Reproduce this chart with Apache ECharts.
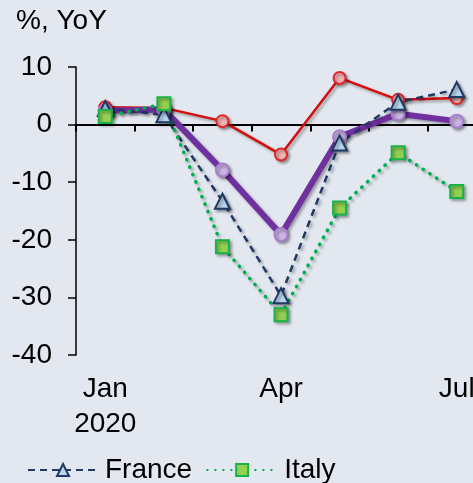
<!DOCTYPE html>
<html>
<head>
<meta charset="utf-8">
<script src="https://cdn.jsdelivr.net/npm/echarts@6/dist/echarts.min.js"></script>
<style>
    html, body {margin: 0; padding: 0; background: #e3e8f0; overflow: hidden;}
    /* plot runs past the right edge, as in the source picture */
    #chart {width: 486px; height: 483px;}
</style>
</head>
<body>
<div id="chart"></div>
<script>
// months of 2020, label shown every third
const months = ['Jan\n2020', 'Feb', 'Mar', 'Apr', 'May', 'Jun', 'Jul'];
const germany = [3.0, 2.9, 0.6, -5.2, 8.1, 4.3, 4.6];
const euroArea = [2.4, 2.6, -7.9, -19.1, -2.1, 1.9, 0.6];
const france = [2.8, 1.7, -13.3, -29.7, -3.2, 3.9, 6.1];
const italy = [1.4, 3.6, -21.2, -33.0, -14.5, -4.9, -11.6];
const yTicks = {min: -40, max: 10, step: 10};

const font = 'Liberation Sans, Arial, sans-serif';
const shadow = {shadowColor: 'rgba(0,0,0,0.35)', shadowBlur: 3, shadowOffsetX: 2, shadowOffsetY: 2};

let myChart = echarts.init(document.getElementById('chart'));
let option = {
    backgroundColor: '#e3e8f0',
    animation: false,
    textStyle: {fontFamily: font},
    title: {
        text: '%, YoY',
        left: 11, top: 2,
        textStyle: {fontSize: 28, fontWeight: 'normal', color: '#000', fontFamily: font}
    },
    grid: {left: 76, right: 0, top: 67, bottom: 128},
    legend: {
        data: ['France', 'Italy'],
        left: 22, top: 451,
        itemWidth: 70, itemHeight: 15, itemGap: 14,
        textStyle: {fontSize: 28, color: '#000', fontFamily: font, padding: [0, 0, 0, 2]}
    },
    xAxis: [
        {
            // axis line through zero with ticks between months
            type: 'category',
            data: months,
            boundaryGap: true,
            axisLine: {onZero: true, lineStyle: {color: '#000', width: 2}},
            axisTick: {show: true, interval: 0, length: 7, lineStyle: {color: '#000', width: 2}},
            axisLabel: {show: false},
            splitLine: {show: false}
        },
        {
            // labels only, at bottom
            type: 'category',
            data: months,
            position: 'bottom',
            boundaryGap: true,
            axisLine: {show: false, onZero: false},
            axisTick: {show: false},
            axisLabel: {
                interval: 2, margin: 17, fontSize: 28, lineHeight: 35,
                color: '#000', fontFamily: font
            },
            splitLine: {show: false}
        }
    ],
    yAxis: {
        type: 'value',
        min: yTicks.min, max: yTicks.max, interval: yTicks.step,
        axisLine: {show: true, lineStyle: {color: '#000', width: 1.5}},
        axisTick: {show: true, length: 8, lineStyle: {color: '#000', width: 1.5}},
        axisLabel: {fontSize: 28, color: '#000', margin: 24, fontFamily: font},
        splitLine: {show: false}
    },
    series: [
        {
            name: 'Germany',
            type: 'line',
            data: germany,
            symbol: 'circle', symbolSize: 12,
            lineStyle: Object.assign({color: '#d40d0d', width: 2.5}, shadow),
            itemStyle: Object.assign({color: '#f4b3b3', borderColor: '#e0262a', borderWidth: 2}, shadow)
        },
        {
            name: 'Euro area',
            type: 'line',
            data: euroArea,
            symbol: 'circle', symbolSize: 13,
            lineStyle: Object.assign({color: '#7030a0', width: 6}, shadow),
            itemStyle: Object.assign({color: '#cbb4e3', borderColor: '#a77fcf', borderWidth: 2}, shadow)
        },
        {
            name: 'France',
            type: 'line',
            data: france,
            symbol: 'triangle', symbolSize: 15,
            lineStyle: Object.assign({color: '#1f3864', width: 2.5, type: [7, 5]}, shadow),
            itemStyle: Object.assign({color: '#b8d6ec', borderColor: '#1f3864', borderWidth: 2}, shadow)
        },
        {
            name: 'Italy',
            type: 'line',
            data: italy,
            symbol: 'rect', symbolSize: 13,
            lineStyle: Object.assign({color: '#00b050', width: 3.5, type: [0.5, 7.5], cap: 'round'}, shadow),
            itemStyle: Object.assign({color: '#92d050', borderColor: '#17b24a', borderWidth: 2}, shadow)
        }
    ]
};
myChart.setOption(option, true);
</script>
</body>
</html>
